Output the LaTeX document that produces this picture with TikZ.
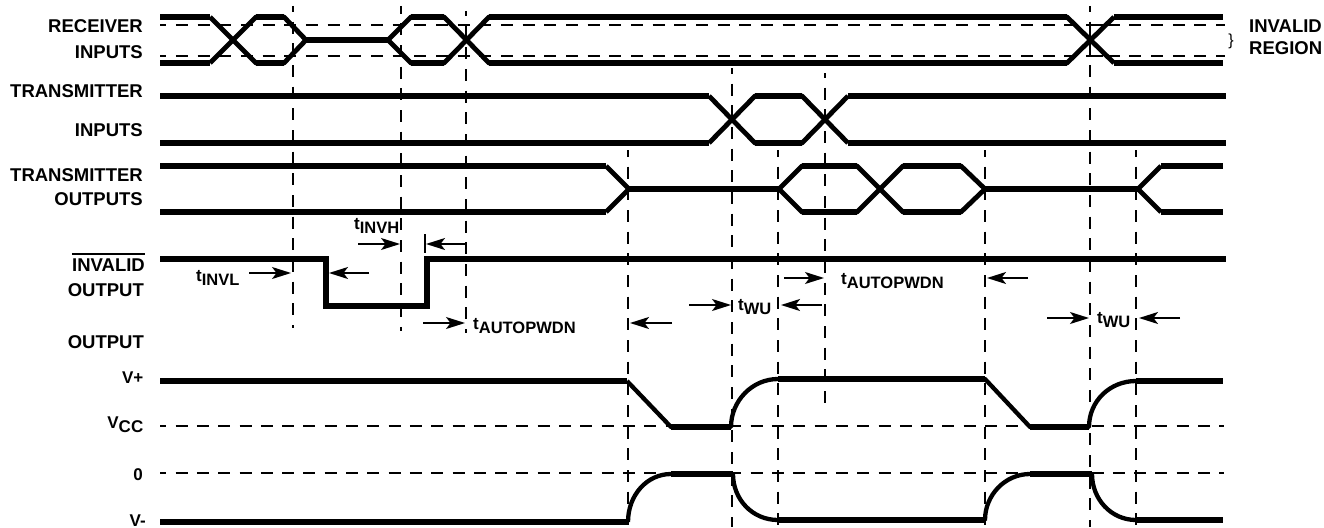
\documentclass[tikz,border=0pt]{standalone}
\usepackage{fontspec}
\setmainfont{Liberation Sans}
\usetikzlibrary{arrows.meta}
\newcommand{\tsub}[1]{{\fontsize{17}{17}\selectfont t\raisebox{-4.5pt}{\fontsize{16.5}{17}\selectfont #1}}}
\tikzset{
  sig/.style={line width=4.8pt,line join=bevel,line cap=butt},
  curv/.style={line width=4.3pt,line join=bevel,line cap=butt},
  flat/.style={line width=5.8pt,line cap=butt},
  refdash/.style={line width=1.7pt,dash pattern=on 12pt off 9.67pt,dash phase=5.7pt},
  refdashb/.style={line width=1.7pt,dash pattern=on 12pt off 9.3pt,dash phase=5.7pt},
  guide/.style={line width=1.8pt,dash pattern=on 12pt off 9.67pt},
  dim/.style={line width=1.6pt,-{Stealth[length=19pt,width=12pt,inset=4.5pt]}},
  lab/.style={inner sep=0pt,font=\bfseries\fontsize{18.5}{18.5}\selectfont,anchor=base east},
  labv/.style={inner sep=0pt,font=\bfseries\fontsize{17}{17}\selectfont,anchor=base east},
  lbl/.style={inner sep=0pt,font=\bfseries\fontsize{17}{17}\selectfont,anchor=base west},
  lblr/.style={inner sep=0pt,font=\bfseries\fontsize{18.5}{18.5}\selectfont,anchor=base west}
}
\begin{document}
\begin{tikzpicture}[x=1pt,y=-1pt]
\useasboundingbox (0,0) rectangle (1324,527);
% horizontal reference lines
\foreach \yy in {25,56} \draw[refdash] (160,\yy) -- (1225,\yy);
\foreach \yy in {426,473} \draw[refdashb] (160,\yy) -- (1224,\yy);
\draw[line width=1.7pt] (1103,25) -- (1090,25) -- (1090,56) -- (1103,56);
% vertical guides
\draw[guide,dash phase=6pt] (293,6) -- (293,328);
\draw[guide,dash phase=4.3pt] (401,6) -- (401,331);
\draw[guide,dash phase=7pt] (466,11) -- (466,333);
\draw[guide,dash phase=5pt] (628,150) -- (628,527);
\draw[guide,dash phase=6pt] (732,68) -- (732,527);
\draw[guide,dash phase=5pt] (778,150) -- (778,527);
\draw[guide,dash phase=7pt] (825,73) -- (825,412);
\draw[guide,dash phase=5pt] (985,150) -- (985,527);
\draw[guide,dash phase=6pt] (1090,6) -- (1090,527);
\draw[guide,dash phase=5pt] (1136,150) -- (1136,527);
% receiver inputs
\draw[sig] (210,17) -- (256,63) -- (284,63) -- (306,40) -- (388,40) -- (411,17) -- (444,17) -- (489,63) -- (1067,63) -- (1114,17);
\draw[sig] (210,63) -- (256,17) -- (284,17) -- (306,40) -- (388,40) -- (411,63) -- (444,63) -- (489,17) -- (1067,17) -- (1114,63);
% transmitter inputs
\draw[sig] (709,96) -- (755,143) -- (802,143) -- (848,96);
\draw[sig] (709,143) -- (755,96) -- (802,96) -- (848,143);
% transmitter outputs
\draw[sig] (606,166) -- (629,189) -- (779,189) -- (802,166) -- (857,166) -- (903,212) -- (961,212) -- (985,189) -- (1138,189) -- (1161,166);
\draw[sig] (606,212) -- (629,189) -- (779,189) -- (802,212) -- (857,212) -- (903,166) -- (961,166) -- (985,189) -- (1138,189) -- (1161,212);
% level segments
\foreach \xa/\xb/\yy in {
  160/210/17,160/210/63,256/284/17,256/284/63,306/388/40,411/444/17,411/444/63,
  489/1067/17,489/1067/63,1114/1223/17,1114/1223/63,
  160/709/96,160/709/143,755/802/96,755/802/143,848/1226/96,848/1226/143,
  160/606/166,160/606/212,629/779/189,802/857/166,802/857/212,903/961/166,903/961/212,
  985/1138/189,1161/1223/166,1161/1223/212,
  160/627/381,671/731/427,778/985/379,1030/1089/427,1136/1223/381,
  160/628/522,671/733/474,778/985/520,1030/1092/474,1136/1223/520}
  \draw[flat] (\xa,\yy) -- (\xb,\yy);
% invalid output
\draw[line width=5.4pt,line join=miter] (160,259) -- (326,259) -- (326,306) -- (427,306) -- (427,259) -- (1226,259);
% V+
\draw[curv] (627,381) -- (671,427) -- (731,427) .. controls (731,401) and (752,379) .. (778,379) -- (985,379) -- (1030,427) -- (1089,427) .. controls (1089,401) and (1110,381) .. (1136,381);
% V-
\draw[curv] (628,522) .. controls (628,495) and (647,474) .. (671,474) -- (733,474) .. controls (733,499) and (752,520) .. (778,520) -- (985,520) .. controls (985,495) and (1005,474) .. (1030,474) -- (1092,474) .. controls (1092,499) and (1111,520) .. (1136,520);
% ticks
\draw[line width=1.5pt] (425,234) -- (425,253);
% dimension arrows
\draw[dim] (358,244) -- (400,244);
\draw[dim] (466,244) -- (426,244);
\draw[dim] (249,273) -- (291,273);
\draw[dim] (369,273) -- (329,273);
\draw[dim] (423,323) -- (465,323);
\draw[dim] (672,323) -- (630,323);
\draw[dim] (689,305) -- (731,305);
\draw[dim] (822,305) -- (781,305);
\draw[dim] (784,278) -- (824,278);
\draw[dim] (1028,278) -- (987,278);
\draw[dim] (1047,318) -- (1089,318);
\draw[dim] (1180,318) -- (1139,318);
% signal names
\node[lab] (rx1) at (143,33) {RECEIVER};
\node[lab] (rx2) at (143,59) {INPUTS};
\node[lab] (ti1) at (143,97.5) {TRANSMITTER};
\node[lab] (ti2) at (143,136.5) {INPUTS};
\node[lab] (to1) at (143,181.5) {TRANSMITTER};
\node[lab] (to2) at (143,205) {OUTPUTS};
\node[lab] (inv) at (145,271) {INVALID};
\draw[line width=1.3pt] ([yshift=4pt]inv.north west) -- ([yshift=4pt]inv.north east);
\node[lab] (io) at (144,296) {OUTPUT};
\node[lab] (oo) at (144,348) {OUTPUT};
\node[labv] (vp) at (143.5,383) {V+};
\node[labv] (vc) at (143.5,428) {V\raisebox{-4.5pt}{CC}};
\node[labv] (zr) at (143,480) {0};
\node[labv] (vm) at (146,526) {V-};
% timing labels
\node[lbl] (tinvh) at (354,229) {\tsub{INVH}};
\node[lbl] (tinvl) at (196,281) {\tsub{INVL}};
\node[lbl] (tap1) at (473,329) {\tsub{AUTOPWDN}};
\node[lbl] (tap2) at (841,284) {\tsub{AUTOPWDN}};
\node[lbl] (twu1) at (738,310) {\tsub{WU}};
\node[lbl] (twu2) at (1097,323) {\tsub{WU}};
% invalid region
\node[inner sep=0pt,font=\fontsize{16}{16}\selectfont] (br) at (1231,41.5) {\}};
\node[lblr] (ir1) at (1249,33) {INVALID};
\node[lblr] (ir2) at (1249,55) {REGION};
\end{tikzpicture}
\end{document}
